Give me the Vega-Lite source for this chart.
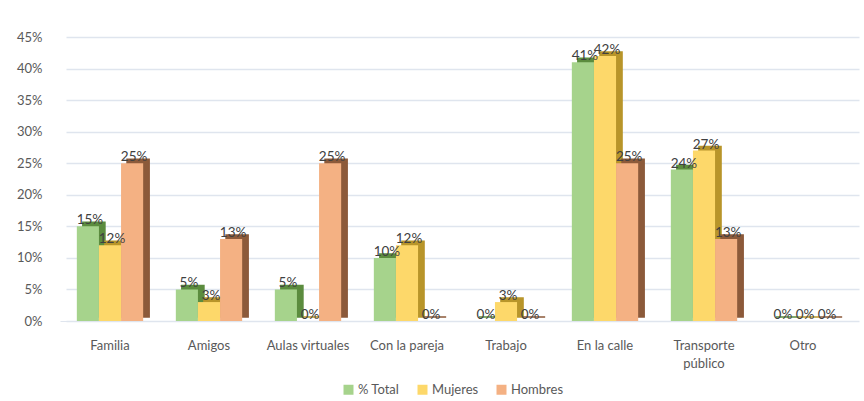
{
  "$schema": "https://vega.github.io/schema/vega-lite/v6.json",
  "autosize": "none",
  "width": 793,
  "height": 284,
  "padding": {"left": 60, "top": 37, "right": 11, "bottom": 80},
  "background": "white",
  "data": {"values": [
    {"cat": "Familia", "serie": "% Total", "v": 15},
    {"cat": "Familia", "serie": "Mujeres", "v": 12},
    {"cat": "Familia", "serie": "Hombres", "v": 25},
    {"cat": "Amigos", "serie": "% Total", "v": 5},
    {"cat": "Amigos", "serie": "Mujeres", "v": 3},
    {"cat": "Amigos", "serie": "Hombres", "v": 13},
    {"cat": "Aulas virtuales", "serie": "% Total", "v": 5},
    {"cat": "Aulas virtuales", "serie": "Mujeres", "v": 0},
    {"cat": "Aulas virtuales", "serie": "Hombres", "v": 25},
    {"cat": "Con la pareja", "serie": "% Total", "v": 10},
    {"cat": "Con la pareja", "serie": "Mujeres", "v": 12},
    {"cat": "Con la pareja", "serie": "Hombres", "v": 0},
    {"cat": "Trabajo", "serie": "% Total", "v": 0},
    {"cat": "Trabajo", "serie": "Mujeres", "v": 3},
    {"cat": "Trabajo", "serie": "Hombres", "v": 0},
    {"cat": "En la calle", "serie": "% Total", "v": 41},
    {"cat": "En la calle", "serie": "Mujeres", "v": 42},
    {"cat": "En la calle", "serie": "Hombres", "v": 25},
    {"cat": "Transporte público", "serie": "% Total", "v": 24},
    {"cat": "Transporte público", "serie": "Mujeres", "v": 27},
    {"cat": "Transporte público", "serie": "Hombres", "v": 13},
    {"cat": "Otro", "serie": "% Total", "v": 0},
    {"cat": "Otro", "serie": "Mujeres", "v": 0},
    {"cat": "Otro", "serie": "Hombres", "v": 0}
  ]},
  "transform": [{"calculate": "datum.v + '%'", "as": "lbl"}],
  "config": {
    "view": {"stroke": null},
    "font": "Lato",
    "axis": {"labelFont": "Lato", "labelColor": "#595959", "labelFontSize": 13}
  },
  "encoding": {
    "x": {
      "field": "cat", "type": "nominal",
      "sort": ["Familia", "Amigos", "Aulas virtuales", "Con la pareja", "Trabajo", "En la calle", "Transporte público", "Otro"],
      "scale": {"paddingInner": 0.33, "paddingOuter": 0.17},
      "axis": {
        "title": null, "domain": true, "domainColor": "#dfe5ee", "ticks": false, "labelAngle": 0,
        "labelPadding": 18, "labelLineHeight": 18,
        "labelExpr": "datum.label == 'Transporte público' ? ['Transporte', 'público'] : datum.label"
      }
    },
    "xOffset": {"field": "serie", "type": "nominal", "sort": ["% Total", "Mujeres", "Hombres"]},
    "y": {
      "field": "v", "type": "quantitative",
      "scale": {"domain": [0, 45]},
      "axis": {
        "title": null, "values": [0, 5, 10, 15, 20, 25, 30, 35, 40, 45],
        "labelExpr": "datum.value + '%'", "domain": false, "ticks": false,
        "labelPadding": 18, "gridColor": "#dfe5ee", "gridWidth": 1.5
      }
    }
  },
  "layer": [
    {
      "mark": {
        "type": "bar", "yOffset": -4, "strokeWidth": 1.5,
        "fill": {"expr": "datum.serie == '% Total' ? '#5b8c3e' : datum.serie == 'Mujeres' ? '#b8952a' : '#8c5a3a'"},
        "stroke": {"expr": "datum.serie == '% Total' ? '#5b8c3e' : datum.serie == 'Mujeres' ? '#b8952a' : '#8c5a3a'"}
      },
      "encoding": {
        "x": {
          "field": "cat", "type": "nominal",
          "sort": ["Familia", "Amigos", "Aulas virtuales", "Con la pareja", "Trabajo", "En la calle", "Transporte público", "Otro"],
          "scale": {"paddingInner": 0.33, "paddingOuter": 0.17, "range": [6, 799]},
          "axis": null
        }
      }
    },
    {
      "mark": {"type": "bar"},
      "encoding": {
        "fill": {
          "field": "serie", "type": "nominal",
          "sort": ["% Total", "Mujeres", "Hombres"],
          "scale": {"domain": ["% Total", "Mujeres", "Hombres"], "range": ["#a6d38c", "#fdd86a", "#f4b183"]},
          "legend": {
            "title": null, "orient": "none", "legendX": 282, "legendY": 346, "direction": "horizontal",
            "symbolType": "square", "symbolSize": 100, "symbolStrokeWidth": 0,
            "labelFont": "Lato", "labelFontSize": 13, "labelColor": "#595959",
            "columnPadding": 16, "labelOffset": 3
          }
        }
      }
    },
    {
      "mark": {"type": "text", "baseline": "middle", "dy": -6, "dx": 2, "fontSize": 13.5, "color": "#404040", "font": "Lato"},
      "encoding": {
        "x": {
          "field": "cat", "type": "nominal",
          "sort": ["Familia", "Amigos", "Aulas virtuales", "Con la pareja", "Trabajo", "En la calle", "Transporte público", "Otro"],
          "scale": {"paddingInner": 0.33, "paddingOuter": 0.17},
          "axis": null
        },
        "text": {"field": "lbl", "type": "nominal"},
        "detail": {"field": "serie"}
      }
    }
  ],
  "resolve": {"scale": {"x": "independent", "xOffset": "independent"}, "axis": {"x": "independent"}}
}
